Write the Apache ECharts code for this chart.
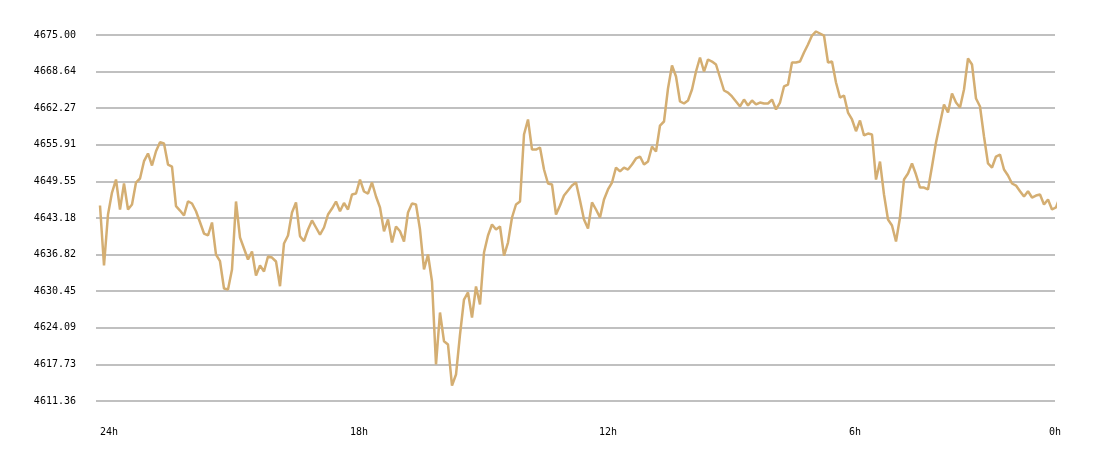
<!DOCTYPE html>
<html>
<head>
<meta charset="utf-8">
<script src="https://cdn.jsdelivr.net/npm/echarts@6/dist/echarts.min.js"></script>
<style>html,body{margin:0;padding:0;background:#fff;}#c{width:1100px;height:458px;}</style>
</head>
<body>
<div id="c"></div>
<script>
var hourLabels = ['24h', '18h', '12h', '6h', '0h'];
var hourLabelIndex = [0, 62.5, 124.75, 187.25, 237.25];
var yTop = 4675.00;
var yStep = 70 / 11;
var yBase = yTop - 10 * yStep;
var prices = [
4645.35,4634.92,4643.79,4647.61,4649.87,4644.66,4649.18,4644.66,4645.53,4649.35,
4650.05,4653.06,4654.40,4652.31,4654.79,4656.36,4656.13,4652.48,4652.13,4645.23,
4644.48,4643.61,4646.10,4645.70,4644.36,4642.45,4640.48,4640.14,4642.40,4636.83,
4635.67,4630.92,4630.75,4634.23,4646.05,4639.79,4637.88,4635.96,4637.35,4633.18,
4634.92,4633.88,4636.49,4636.31,4635.62,4631.32,4638.75,4640.14,4644.14,4645.88,
4640.02,4639.15,4641.18,4642.75,4641.53,4640.31,4641.53,4643.79,4644.83,4646.05,
4644.36,4645.79,4644.66,4647.27,4647.44,4649.87,4647.79,4647.44,4649.35,4646.92,
4645.01,4640.88,4642.92,4638.92,4641.70,4640.88,4639.09,4644.14,4645.70,4645.53,
4641.18,4634.23,4636.83,4632.14,4617.71,4626.75,4621.76,4621.18,4614.05,4615.97,
4622.92,4629.01,4630.23,4625.88,4631.27,4628.14,4637.18,4640.14,4642.05,4641.18,
4641.70,4636.66,4638.92,4643.27,4645.53,4646.05,4657.70,4660.31,4655.09,4655.09,
4655.44,4651.61,4649.18,4649.00,4643.79,4645.35,4647.09,4647.96,4648.83,4649.35,
4646.22,4642.92,4641.35,4645.88,4644.66,4643.27,4646.40,4648.14,4649.35,4651.96,
4651.27,4651.96,4651.61,4652.48,4653.53,4653.87,4652.48,4653.00,4655.61,4654.74,
4659.26,4659.96,4665.70,4669.70,4667.78,4663.44,4663.09,4663.61,4665.52,4668.65,
4671.09,4668.65,4670.74,4670.39,4669.87,4667.61,4665.35,4665.00,4664.31,4663.44,
4662.57,4663.78,4662.74,4663.61,4662.92,4663.26,4663.09,4663.09,4663.78,4662.05,
4663.26,4666.05,4666.39,4670.22,4670.22,4670.39,4671.96,4673.35,4674.91,4675.61,
4675.26,4674.91,4670.22,4670.39,4666.74,4664.13,4664.48,4661.52,4660.31,4658.27,
4660.13,4657.53,4657.87,4657.70,4649.87,4653.00,4647.27,4642.92,4641.88,4639.09,
4643.27,4649.87,4650.92,4652.66,4650.74,4648.48,4648.48,4648.14,4652.13,4656.31,
4659.61,4662.92,4661.52,4664.83,4663.26,4662.39,4665.52,4670.91,4669.87,4663.96,
4662.57,4657.35,4652.66,4651.96,4653.87,4654.22,4651.61,4650.57,4649.18,4648.83,
4647.84,4646.92,4647.84,4646.74,4647.09,4647.27,4645.53,4646.40,4644.66,4645.01,
4646.92
];

var seriesData = prices.map(function (p, i) { return [i, p - yBase]; });
var lastIndex = prices.length - 1;
var font = "'DejaVu Sans Mono', monospace";

var chart = echarts.init(document.getElementById('c'), null, {renderer: 'canvas'});
chart.setOption({
  animation: false,
  backgroundColor: '#ffffff',
  grid: {left: 96, right: 45, top: 35, bottom: 57, containLabel: false},
  xAxis: {
    type: 'value',
    min: -1,
    max: lastIndex - 1.25,
    axisLine: {show: false},
    axisTick: {show: false},
    splitLine: {show: false},
    axisLabel: {
      customValues: hourLabelIndex,
      formatter: function (v) {
        var k = hourLabelIndex.indexOf(v);
        return k >= 0 ? hourLabels[k] : '';
      },
      align: 'left',
      margin: 26,
      color: '#000',
      fontFamily: font,
      fontSize: 10,
      showMinLabel: true,
      showMaxLabel: true
    }
  },
  yAxis: {
    type: 'value',
    min: 0,
    max: yTop - yBase,
    interval: yStep,
    axisLine: {show: false},
    axisTick: {show: false},
    splitLine: {show: true, lineStyle: {color: '#c0c0c0', width: 2}},
    axisLabel: {
      formatter: function (v) { return (yBase + v).toFixed(2); },
      margin: 20,
      color: '#000',
      fontFamily: font,
      fontSize: 10
    }
  },
  series: [{
    type: 'line',
    data: seriesData,
    showSymbol: false,
    clip: false,
    smooth: false,
    lineStyle: {color: '#d4ae72', width: 2.5},
    itemStyle: {color: '#d4ae72'}
  }]
});
</script>
</body>
</html>
